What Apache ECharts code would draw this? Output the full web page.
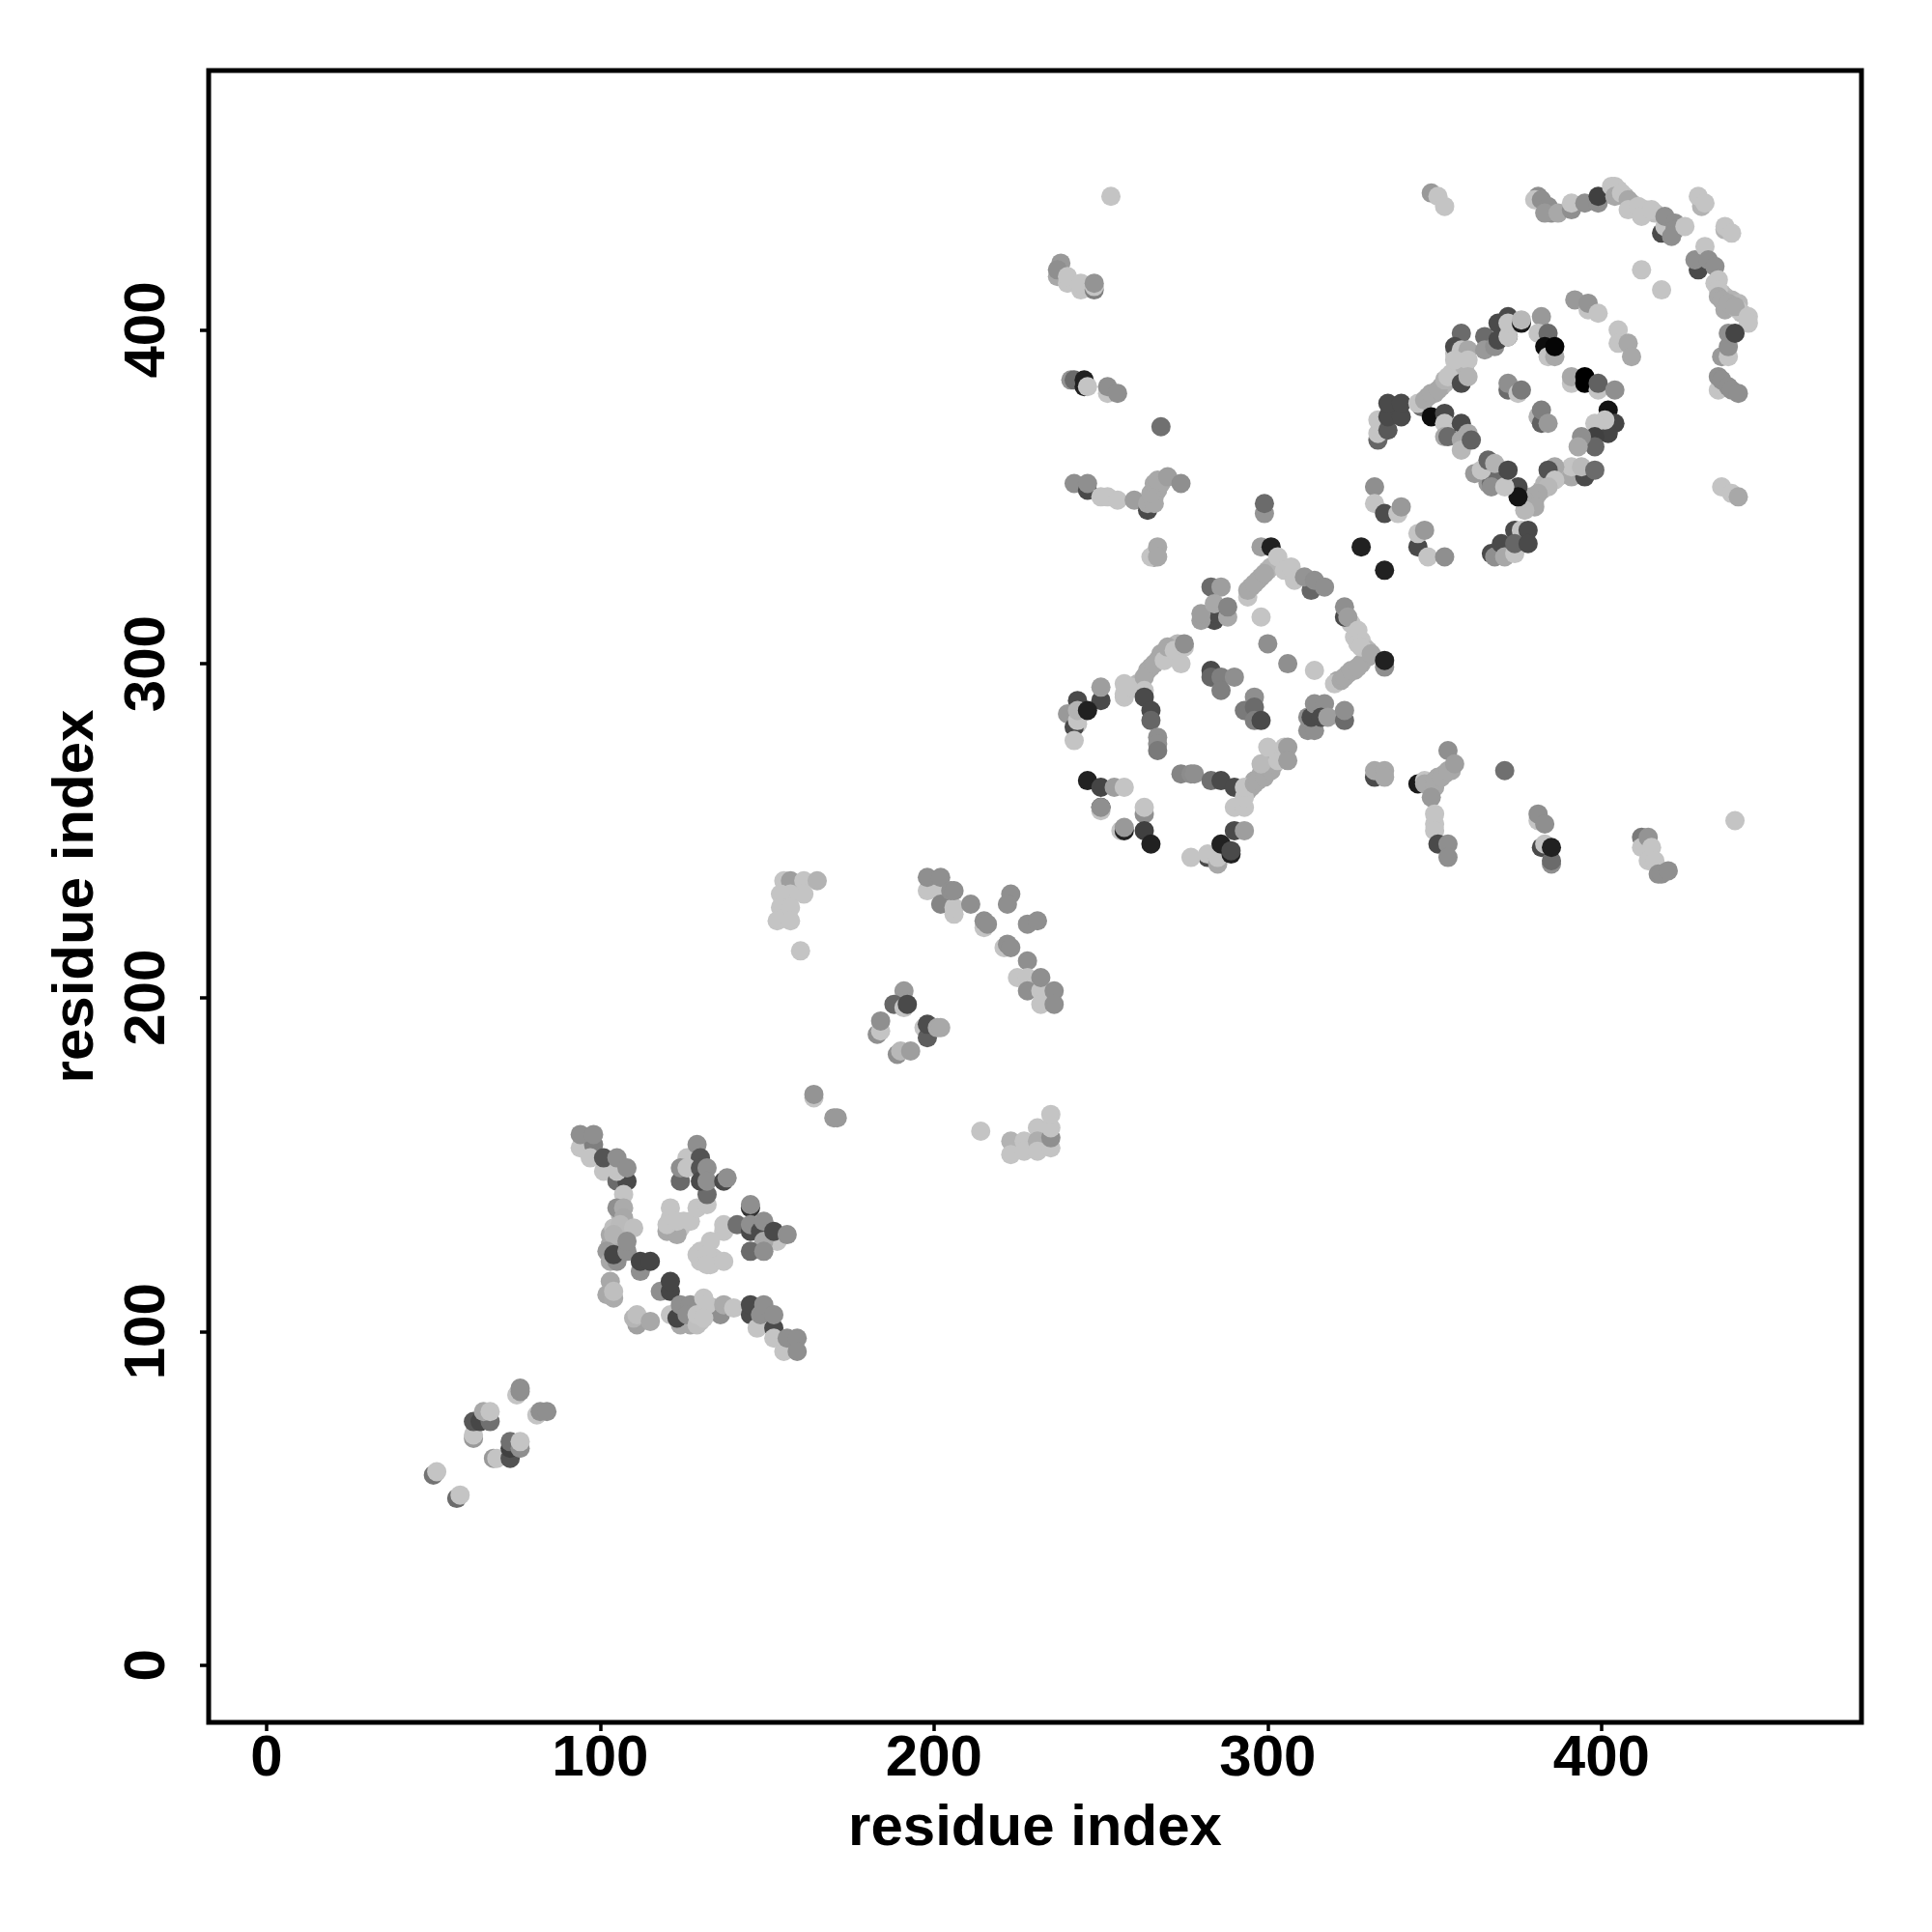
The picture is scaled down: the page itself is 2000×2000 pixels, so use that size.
<!DOCTYPE html>
<html><head><meta charset="utf-8">
<style>html,body{margin:0;padding:0;background:#fff}#c{width:2000px;height:2000px}</style>
<script src="https://cdn.jsdelivr.net/npm/echarts@6/dist/echarts.min.js"></script>
</head><body><div id="c"></div>
<script>
// Each point: [residue i, residue j, score]; score sets the grey level.
const tickValues = [0, 100, 200, 300, 400];
const xTitle = 'residue index';
const yTitle = 'residue index';
const clusterChains = [[295,323,66],[297,325,66],[298,326,66],[300,328,70],[301,329,70],[325,312,77],[326,308,77],[328,307,77],[329,305,77],[330,304,72],[321,295,66],[324,297,66],[326,298,66],[328,300,66],[330,302,66],[265,299,66],[267,301,66],[268,303,66],[271,304,66],[273,306,72],[258,292,77],[261,294,72],[294,262,66],[295,263,66],[296,265,66],[298,267,66],[299,268,66],[300,269,66],[302,270,66],[346,378,66],[348,380,66],[350,381,66],[352,383,66],[353,384,70],[355,387,77],[378,348,66],[380,349,66],[382,352,68],[383,354,70],[385,355,72],[386,357,72],[387,356,72],[405,442,77],[407,440,72],[409,438,72],[410,437,75],[413,436,75],[416,435,75],[434,414,77],[436,411,75],[437,410,72],[439,409,70],[441,408,72],[442,405,75],[436,384,56],[351,266,66],[353,267,66],[355,268,66],[265,350,66],[266,350,66],[267,352,66],[268,354,66],[106,135,70],[108,131,75],[105,127,70],[103,126,66],[107,129,66],[122,131,77],[124,131,77],[125,133,77],[121,134,77],[131,122,77],[133,120,77],[134,122,77],[130,124,77],[128,104,77],[130,103,77],[130,107,77],[133,107,77],[127,102,66],[134,107,66],[357,388,77],[356,393,77],[359,389,70],[362,357,60],[365,358,60],[366,356,50],[366,354,60],[368,357,42]];
const clusterA = [[50,57,45],[51,58,77],[57,50,42],[58,51,77],[68,62,60],[69,62,77],[73,62,32],[73,65,25],[73,67,44],[76,65,56],[76,67,77],[62,68,60],[62,69,77],[62,73,34],[64,73,28],[67,73,44],[65,76,66],[67,76,77],[75,81,77],[76,82,56],[76,83,56],[81,75,77],[82,76,56],[84,76,56]];
const clusterB = [[94,155,77],[98,156,50],[94,159,56],[98,159,56],[97,152,77],[101,148,77],[101,152,33],[105,145,42],[108,145,29],[105,148,77],[105,152,56],[108,149,56],[107,141,77],[105,137,56],[107,137,67],[107,134,66],[103,129,66],[104,131,75],[106,132,73],[104,129,70],[110,131,75],[102,124,60],[103,121,66],[105,121,56],[104,123,27],[108,124,56],[108,127,56],[112,118,56],[112,121,27],[115,121,27],[103,115,66],[102,111,66],[104,110,67],[104,112,75],[118,112,56],[121,112,27],[121,115,27],[111,102,63],[110,104,71],[111,105,75],[115,103,66],[124,102,66],[121,105,77],[123,104,27],[124,108,56],[127,108,56],[126,105,56],[136,105,56],[129,102,75],[129,105,77],[131,110,77],[132,108,77],[131,104,77],[137,108,67],[140,107,77],[145,105,29],[145,108,29],[147,101,77],[148,105,56],[149,108,56],[152,101,29],[152,105,56],[152,98,77],[155,94,77],[156,98,56],[159,98,56],[159,94,56]];
const clusterC = [[121,137,77],[120,130,66],[123,129,66],[120,132,77],[123,133,77],[127,133,77],[129,137,77],[132,138,77],[132,141,42],[126,152,77],[129,156,56],[130,152,33],[124,145,41],[124,149,56],[126,149,77],[130,149,33],[130,145,29],[132,149,56],[132,145,56],[137,145,29],[138,146,56],[145,137,20],[145,138,56],[137,130,77],[137,132,77],[141,132,44],[145,130,29],[145,132,56],[148,130,29],[149,133,56],[153,127,77],[149,127,66],[152,130,29],[156,129,56],[145,124,42],[149,124,56],[130,121,77],[129,123,77],[133,127,77],[132,123,77],[132,120,77],[137,121,77]];
const clusterD = [[164,170,77],[164,171,58],[170,164,60],[171,164,60],[157,234,25],[155,235,77],[157,235,62],[161,235,77],[165,235,70],[161,231,77],[157,231,77],[154,231,77],[154,227,77],[157,227,77],[153,223,77],[157,223,77],[160,214,77]];
const clusterE = [[198,232,77],[202,232,77],[198,236,56],[202,236,56],[202,228,52],[206,225,77],[206,227,77],[205,232,56],[206,232,56],[211,228,56],[215,221,77],[215,223,56],[216,222,56],[223,231,56],[222,228,56],[228,222,56],[231,223,56],[221,215,77],[222,216,56],[223,215,56],[228,211,56],[225,206,77],[228,206,77],[228,202,56],[232,202,77],[232,206,56],[232,198,77],[236,202,56],[236,198,56]];
const clusterF = [[191,202,60],[191,199,60],[188,198,40],[191,197,77],[192,198,29],[183,189,56],[184,190,77],[184,193,56],[197,191,77],[198,188,37],[198,192,30],[201,191,66],[202,191,66],[189,183,56],[190,184,72],[193,184,62],[214,160,77],[223,157,70],[223,153,77],[227,157,77],[227,154,77],[233,158,25],[231,161,77],[231,157,68],[231,154,77],[235,155,77],[235,158,56],[235,161,77],[235,165,77]];
const clusterG = [[238,420,60],[237,416,66],[237,418,56],[240,414,77],[240,416,77],[244,412,77],[244,414,77],[248,412,50],[248,413,77],[248,414,58],[253,440,77],[241,385,58],[242,385,42],[245,385,13],[245,383,13],[246,383,77],[252,381,77],[252,383,56],[255,381,56],[268,371,44],[242,354,56],[246,352,29],[246,354,56],[250,350,77],[252,350,77],[255,349,77],[260,349,62],[264,346,29],[264,348,66],[266,348,66],[265,351,66],[266,354,66],[267,355,66],[270,356,62],[274,354,56],[266,332,27],[265,332,77],[267,335,66],[267,332,66],[299,345,58],[299,348,42]];
const clusterH = [[283,323,42],[286,323,62],[284,313,29],[284,315,29],[280,313,62],[280,315,62],[288,314,66],[284,318,66],[288,317,52],[257,290,77],[257,291,77],[257,294,77],[259,293,77],[264,298,66],[263,296,66],[266,300,66],[263,292,77],[269,301,77],[274,300,77],[270,305,66],[272,304,77],[275,305,77],[275,306,56],[263,290,29],[265,286,29],[265,283,40],[267,278,56],[267,276,56],[267,274,48],[250,289,29],[250,293,62],[243,289,29],[240,285,60],[243,282,77],[242,281,29],[243,283,77],[243,286,70],[246,286,13],[242,277,77],[246,265,13],[250,263,27],[254,263,62],[257,263,77],[250,257,13],[250,256,77],[250,257,56],[263,255,56],[263,257,77],[256,250,77],[257,250,13],[257,251,60],[263,250,25],[265,246,13]];
const clusterI = [[274,267,52],[277,267,55],[278,267,56],[283,265,44],[286,265,29],[290,263,29],[282,242,29],[282,243,77],[277,242,77],[285,240,66],[285,242,77],[286,246,13],[289,243,13],[289,244,29],[290,250,29],[293,250,62],[290,257,77],[293,257,77],[293,260,77],[293,263,77],[296,264,66],[297,265,66],[299,266,66],[301,268,66],[301,270,66],[298,270,73],[303,271,77],[300,275,77],[305,275,77],[306,275,62],[306,271,62]];
const clusterJ = [[283,298,29],[283,296,40],[286,296,50],[286,292,50],[290,296,56],[296,290,56],[293,286,48],[296,287,42],[296,283,50],[298,283,29],[298,314,77],[300,306,56],[306,300,56],[314,298,77],[294,320,77],[294,322,66],[296,324,66],[299,327,66],[298,335,62],[301,335,13],[303,332,77],[305,328,77],[307,329,77],[308,325,77],[313,322,40],[311,326,58],[314,325,56],[317,323,56],[323,314,29],[323,317,56],[324,314,62],[327,310,77],[327,306,77],[328,305,77],[320,294,77],[322,295,66],[323,296,66],[325,298,66],[327,299,66],[331,303,66],[335,299,56],[335,301,13],[312,280,56],[314,280,56],[312,284,56],[313,284,29],[314,288,56],[317,288,56],[316,284,29],[318,284,62],[323,283,42],[323,286,56],[332,266,29],[332,268,66],[335,268,66],[335,266,66]];
const clusterK = [[332,353,56],[332,348,77],[335,345,30],[339,345,77],[340,347,60],[328,335,13],[335,328,13],[345,335,29],[345,339,77],[347,340,60],[348,332,77],[353,332,56],[367,333,29],[368,332,56],[370,336,29],[374,340,29],[376,340,77],[378,340,29],[371,332,66],[374,333,77],[374,336,40],[378,336,29],[349,441,60],[351,440,77],[353,437,77]];
const clusterL = [[333,367,40],[333,369,77],[333,373,77],[336,370,35],[336,374,29],[340,374,29],[336,378,29],[340,378,29],[346,377,42],[345,378,77],[347,379,66],[349,381,66],[351,382,66],[353,385,70],[354,386,77],[349,374,5],[353,375,29],[353,372,77],[353,368,66],[354,368,42],[358,372,29],[358,367,66],[358,364,72],[360,369,66],[361,367,38],[358,399,42],[356,395,29],[358,394,77],[360,394,66],[356,391,77],[360,391,77],[358,384,29],[360,386,70],[365,398,42],[365,394,60],[368,395,56],[369,402,29],[372,404,29],[369,397,29],[372,398,29],[372,398,77],[372,402,77],[376,402,10],[376,403,72],[382,404,60],[381,399,77],[384,399,42],[383,395,5],[384,392,77],[386,392,66],[386,395,2]];
const clusterM = [[372,382,42],[372,384,56],[375,381,77],[376,382,48],[391,384,77],[391,386,66],[395,384,0],[395,386,0],[399,382,77],[399,384,38],[404,382,56],[381,374,70],[382,372,38],[382,376,50],[384,372,60],[392,409,60],[396,406,77],[396,408,58],[399,405,77],[405,400,77],[405,396,77],[408,396,66],[409,392,66]];
const clusterN = [[402,376,8],[404,372,27],[402,369,27],[401,373,77],[398,372,77],[398,368,25],[398,365,40],[394,368,56],[393,365,66],[391,356,66],[395,356,29],[391,359,77],[394,359,73],[398,358,42],[386,359,66],[384,358,32],[386,355,77],[384,353,72],[381,351,66],[379,350,66],[377,349,66],[380,347,66],[377,346,72],[375,353,29],[375,350,8],[367,354,42],[367,353,56],[371,353,77],[364,358,77],[366,361,40],[368,360,70],[372,358,29]];
const clusterO = [[381,440,56],[380,439,77],[382,439,56],[384,437,56],[385,435,56],[383,435,60],[387,435,66],[391,436,56],[391,438,77],[395,438,56],[399,438,56],[399,440,25],[403,443,77],[404,443,77],[404,440,66],[406,441,77],[408,439,66],[408,436,77],[411,437,77],[412,434,77],[415,436,77],[418,429,29],[419,431,77],[419,434,56],[422,432,56],[422,430,56],[421,428,56],[425,431,77],[430,437,70],[429,440,77],[431,438,77],[437,430,70],[437,431,77],[439,429,77],[412,418,77],[418,412,77]];
const clusterP = [[429,418,29],[428,421,56],[431,425,77],[432,421,56],[434,419,56],[435,415,77],[435,412,77],[435,410,66],[436,409,66],[437,406,66],[438,408,66],[441,406,77],[440,407,66],[444,404,77],[444,402,77],[436,392,60],[438,392,77],[438,395,56],[438,399,56],[440,399,27],[435,382,77],[435,386,56],[436,385,56],[438,383,56],[439,382,56],[441,381,56],[436,353,77],[439,351,77],[441,350,66]];
const clusterQ = [[354,274,56],[345,264,10],[347,265,77],[347,264,66],[350,265,66],[350,263,66],[352,266,66],[354,268,66],[356,270,62],[349,260,60],[350,252,77],[350,255,77],[350,250,77],[351,246,29],[354,246,56],[354,242,56],[371,268,44],[381,253,77],[381,255,56],[383,252,56],[382,245,29],[383,246,77],[385,240,56],[385,241,42],[385,245,13],[412,248,48],[412,245,77],[414,248,58],[415,245,77],[414,241,77],[416,241,77],[417,237,56],[418,237,56],[420,238,56],[440,253,77]];
const allClusters = [clusterChains, clusterA, clusterB, clusterC, clusterD, clusterE, clusterF, clusterG, clusterH, clusterI, clusterJ, clusterK, clusterL, clusterM, clusterN, clusterO, clusterP, clusterQ];
const points = allClusters.flat();

function grey(score){ const g = Math.round(score * 2.55); return 'rgb(' + g + ',' + g + ',' + g + ')'; }
const fontFamily = '"Liberation Sans", Arial, Helvetica, sans-serif';
const chart = echarts.init(document.getElementById('c'), null, {renderer:'canvas'});
function axis(name, rotate, nameGap, margin, min, max){
  return {
    type:'value', min:min, max:max, name:name, nameLocation:'middle', nameGap:nameGap,
    nameTextStyle:{fontFamily:fontFamily,fontWeight:'bold',fontSize:60,color:'#000'},
    splitLine:{show:false},
    axisLine:{show:false,onZero:false},
    axisTick:{show:true,length:9,lineStyle:{color:'#000',width:3.5},customValues:tickValues},
    axisLabel:{show:true,rotate:rotate,margin:margin,fontFamily:fontFamily,fontWeight:'bold',fontSize:60,color:'#000',customValues:tickValues,formatter:v=>String(v),hideOverlap:false}
  };
}
chart.setOption({
  animation:false,
  backgroundColor:'#fff',
  grid:{left:216,right:73,top:73,bottom:217,show:true,borderColor:'#000',borderWidth:5,backgroundColor:'transparent',z:10},
  xAxis:axis(xTitle,0,80,8,-17.34,477.9),
  yAxis:axis(yTitle,90,107,33,-17.1,477.7),
  series:[{type:'scatter',data:points,symbol:'circle',symbolSize:20,large:false,clip:true,
    itemStyle:{opacity:1,color:p=>grey(p.value[2])},
    emphasis:{disabled:true}}]
});
</script></body></html>
